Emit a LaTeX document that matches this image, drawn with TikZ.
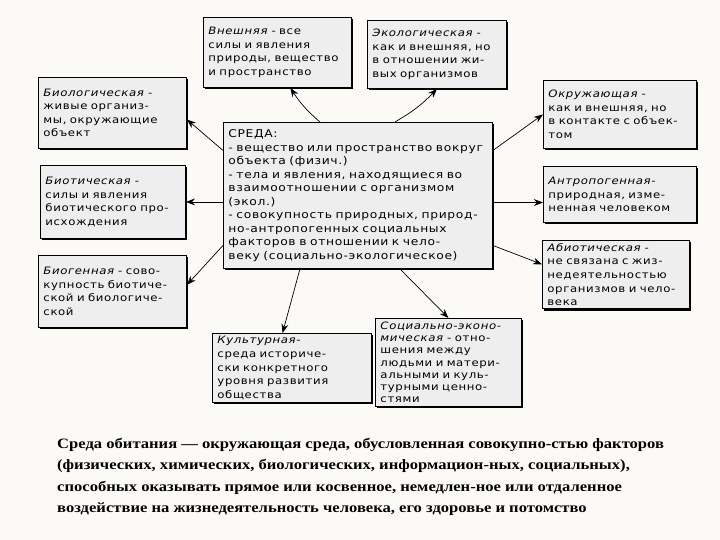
\documentclass[tikz,border=0pt]{standalone}
\usepackage{fontspec}
\setmainfont{DejaVu Sans}[FakeStretch=1.15, LetterSpace=6]
\newfontfamily\notefont{Liberation Serif}[FakeStretch=1.16]
\usepackage{tikz}
\usetikzlibrary{arrows.meta,positioning,calc,shadows}
\definecolor{bgcream}{rgb}{0.985,0.980,0.970}
\definecolor{boxgray}{rgb}{0.935,0.935,0.935}
\tikzset{
  envbox/.style={draw=black, fill=boxgray, line width=0.9pt, anchor=north west,
                 align=left, inner xsep=5pt, inner ysep=3pt,
                 font=\fontsize{10.2}{13.6}\selectfont,
                 drop shadow={shadow xshift=1.6pt, shadow yshift=-1.6pt, fill=black, opacity=1}},
  link/.style={-{Stealth[length=3.2mm,width=2.4mm]}, line width=0.7pt, draw=black},
}
\newcommand{\term}[1]{\textit{#1}}

\begin{document}
\begin{tikzpicture}[x=1pt, y=-1pt,
    core/.style={envbox, font=\fontsize{10.7}{13.5}\selectfont},
    note/.style={anchor=north west, align=left, inner sep=0pt,
                 font=\notefont\bfseries\fontsize{14.3}{21.5}\selectfont}]
  \useasboundingbox (0,0) rectangle (720,540);
  \fill[bgcream] (0,0) rectangle (720,540);

  % centre
  \node[core, text width=259pt, minimum height=146pt] (sreda) at (223,122)
    {СРЕДА:\\- вещество или пространство вокруг\\объекта (физич.)\\- тела и явления, находящиеся во\\взаимоотношении с организмом\\(экол.)\\- совокупность природных, природ-\\но-антропогенных социальных\\факторов в отношении к чело-\\веку (социально-экологическое)};

  % surrounding kinds of environment
  \node[envbox, text width=138pt, minimum height=70pt] (vnesh) at (203,17)
    {\term{Внешняя} - все\\силы и явления\\природы, вещество\\и пространство};
  \node[envbox, text width=129pt, minimum height=68pt] (ekol) at (367,20)
    {\term{Экологическая} -\\как и внешняя, но\\в отношении жи-\\вых организмов};
  \node[envbox, text width=138pt, minimum height=71pt] (biol) at (38,77)
    {\term{Биологическая} -\\живые организ-\\мы, окружающие\\объект};
  \node[envbox, text width=143pt, minimum height=68pt] (okruzh) at (543,80)
    {\term{Окружающая} -\\как и внешняя, но\\в контакте с объек-\\том};
  \node[envbox, text width=135pt, minimum height=73pt] (biot) at (40,165)
    {\term{Биотическая} -\\силы и явления\\биотического про-\\исхождения};
  \node[envbox, text width=143pt, minimum height=56pt] (antrop) at (543,166)
    {\term{Антропогенная}-\\природная, изме-\\ненная человеком};
  \node[envbox, text width=138pt, minimum height=72pt] (biogen) at (38,255)
    {\term{Биогенная} - сово-\\купность биотиче-\\ской и биологиче-\\ской};
  \node[envbox, text width=137pt, minimum height=68pt] (abiot) at (542,240)
    {\term{Абиотическая} -\\не связана с жиз-\\недеятельностью\\организмов и чело-\\века};
  \node[envbox, text width=149pt, minimum height=67pt] (kult) at (212,333)
    {\term{Культурная}-\\среда историче-\\ски конкретного\\уровня развития\\общества};
  \node[envbox, text width=136pt, minimum height=88pt,
        font=\fontsize{10.2}{12.2}\selectfont] (socek) at (375,318)
    {\term{Социально-эконо-}\\\term{мическая} - отно-\\шения между\\людьми и матери-\\альными и куль-\\турными ценно-\\стями};

  \draw[link] ($(sreda.north)+(-38,0)$) to[bend left=8] (vnesh.-70);
  \draw[link] ($(sreda.north)+(37,0)$) to[bend right=8] (ekol.south);
  \draw[link] ($(sreda.west)+(0,-45)$) -- (biol.-5);
  \draw[link] (sreda.west |- biot.east) -- (biot.east);
  \draw[link] ($(sreda.west)+(0,50)$) -- (biogen.5);
  \draw[link] ($(sreda.east)+(0,-45)$) -- (okruzh.west);
  \draw[link] (sreda.east |- antrop.186) -- (antrop.186);
  \draw[link] ($(sreda.east)+(0,50)$) -- (abiot.172);
  \draw[link] ($(sreda.south)+(-58,0)$) -- (kult.105);
  \draw[link] ($(sreda.south)+(42,0)$) -- (socek.north);

  \node[note] (def) at (57,438)
    {Среда обитания — окружающая среда, обусловленная совокупно-стью факторов\\(физических, химических, биологических, информацион-ных, социальных),\\способных оказывать прямое или косвенное, немедлен-ное или отдаленное\\воздействие на жизнедеятельность человека, его здоровье и потомство};
\end{tikzpicture}
\end{document}
